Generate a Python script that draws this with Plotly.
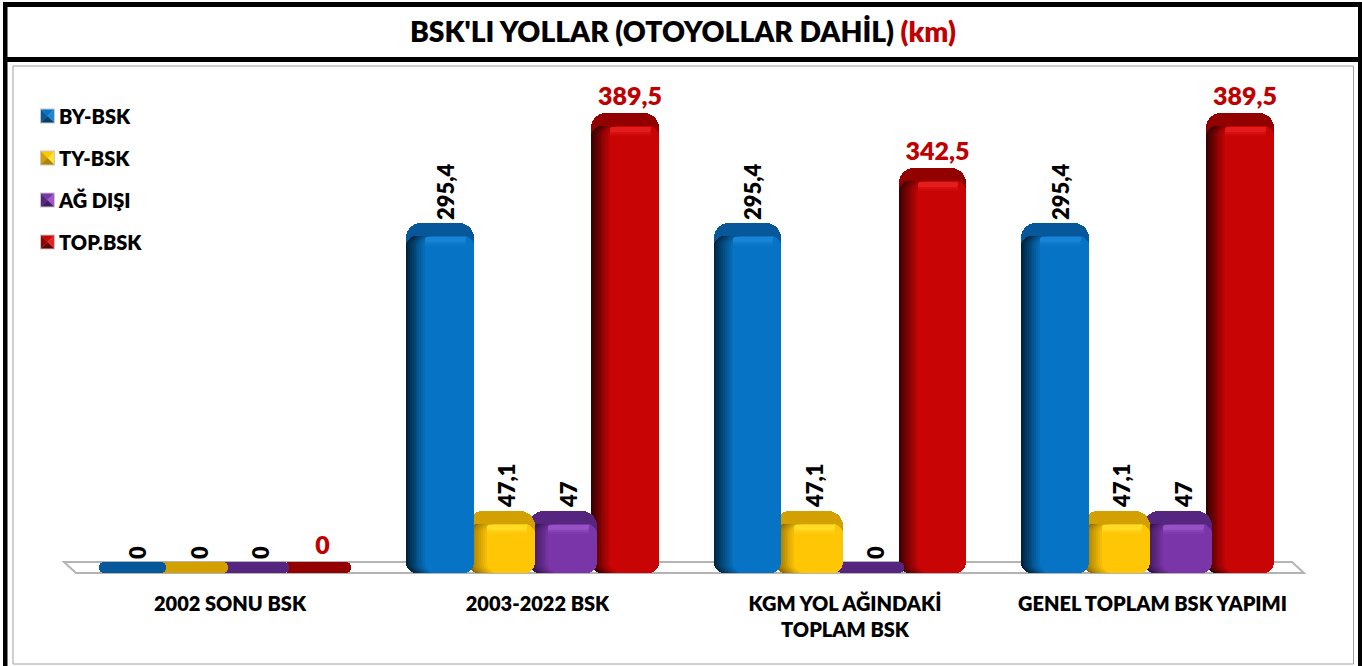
import plotly.graph_objects as go

categories = ["2002 SONU BSK", "2003-2022 BSK", "KGM YOL AĞINDAKİ<br>TOPLAM BSK", "GENEL TOPLAM BSK YAPIMI"]
by_bsk = [0, 295.4, 295.4, 295.4]
ty_bsk = [0, 47.1, 47.1, 47.1]
ag_disi = [0, 47, 0, 47]
top_bsk = [0, 389.5, 342.5, 389.5]
series_names = ["BY-BSK", "TY-BSK", "AĞ DIŞI", "TOP.BSK"]
title_text = "BSK'LI YOLLAR (OTOYOLLAR DAHİL) <span style='color:#C00000'>(km)</span>"

W, H = 1362, 666
L, R, T, B = 20, 1340, 70, 573
PX_PER_KM = 1.162
FLOOR_Y = 566
GROUP_0 = 225
GROUP_STEP = 307.5
BAR_W = 67.5
BAR_STEP = 61.67
FONT = "Lato"

styles = [
    dict(front="#0673C4", back="#07589A", dark="#00233D", hi="#1B88DA"),
    dict(front="#FFC605", back="#D2A000", dark="#8A6800", hi="#FFE22E"),
    dict(front="#7A35A8", back="#55257F", dark="#32134E", hi="#9C58CC"),
    dict(front="#C90404", back="#930000", dark="#380000", hi="#E92222"),
]
values = [by_bsk, ty_bsk, ag_disi, top_bsk]


def km(px):
    return px / PX_PER_KM


def ux(px):
    return px / GROUP_STEP


def pxx(px):
    return (px - L) / (R - L)


def pxy(py):
    return (B - py) / (B - T)


def mix(a, b, t):
    ca = [int(a[i:i + 2], 16) for i in (1, 3, 5)]
    cb = [int(b[i:i + 2], 16) for i in (1, 3, 5)]
    return "#%02X%02X%02X" % tuple(round(p + (q - p) * t) for p, q in zip(ca, cb))


fig = go.Figure()
xs = list(range(len(categories)))
bottom = -km(B - FLOOR_Y)


def layer(vals, left, width, top_inset, color, radius, bot=None):
    """Bar piece: spans from the floor (or bot px under the value top) to top_inset px under the value top."""
    ys, bases = [], []
    for v in vals:
        if v is None:
            ys.append(None)
            bases.append(None)
            continue
        top = v - km(top_inset)
        base = bottom if bot is None else v - km(bot)
        ys.append(top - base)
        bases.append(base)
    fig.add_trace(go.Bar(
        x=xs, y=ys, base=bases, width=ux(width), offset=ux(left),
        marker=dict(color=color, line_width=0, cornerradius=radius),
        showlegend=False, hoverinfo="skip",
    ))


# draw back to front: red, purple, yellow, blue
for i in [3, 2, 1, 0]:
    s = styles[i]
    vals = values[i]
    left0 = -126.5 + i * BAR_STEP
    # top/back face; zero values flatten to a thin plate on the floor
    layer([max(v, km(4)) for v in vals], left0, BAR_W, 0, s["back"], 15)
    nz = [v if v > 0 else None for v in vals]
    # dark left face, blending into the front
    steps = 11
    for k in range(steps):
        t = k / (steps - 1)
        inset = k * 1.9
        layer(nz, left0 + inset, BAR_W - inset, 13, mix(s["dark"], s["front"], t ** 0.9), 10)
    # soft highlight band under the top face
    layer(nz, left0 + 19, BAR_W - 27, 14, mix(s["hi"], s["front"], 0.2), 4, bot=19)
    layer(nz, left0 + 19, BAR_W - 27, 19, mix(s["hi"], s["front"], 0.6), 0, bot=21)
    layer(nz, left0 + 19, BAR_W - 27, 21, mix(s["hi"], s["front"], 0.85), 0, bot=23)

# value labels carried by transparent bars that also provide the legend entries
for i in [3, 2, 1, 0]:
    vals = values[i]
    left0 = -126.5 + i * BAR_STEP
    is_total = i == 3
    fig.add_trace(go.Bar(
        x=xs, y=[max(v, km(4)) for v in vals], width=ux(BAR_W), offset=ux(left0 + 5),
        marker=dict(color="rgba(0,0,0,0)", line_width=0),
        name=series_names[i], legendgroup=series_names[i], legendrank=i + 1, showlegend=True,
        text=[f"{v:g}".replace(".", ",") for v in vals],
        textposition="outside", cliponaxis=False, constraintext="none",
        textangle=0 if is_total else -90,
        textfont=dict(family=FONT, size=25 if is_total else 22, weight=800,
                      color="#C00000" if is_total else "#000000"),
        hoverinfo="skip",
    ))

shapes = []


def rect(x0, y0, x1, y1, **kw):
    shapes.append(dict(type="rect", xref="paper", yref="paper", x0=pxx(x0), x1=pxx(x1),
                       y0=pxy(y0), y1=pxy(y1), **kw))


def poly(points, color, line=None, layer_name="above"):
    path = "M" + " L".join(f"{pxx(x):.5f},{pxy(y):.5f}" for x, y in points) + " Z"
    shapes.append(dict(type="path", xref="paper", yref="paper", path=path, fillcolor=color,
                       line=dict(color=line or color, width=2 if line else 0), layer=layer_name))


# outer frame
rect(13, 66, 1353.5, 664, line=dict(color="#A0A0A0", width=1), layer="below")
rect(3, 2, 7.5, H + 2, fillcolor="#000000", line_width=0, layer="below")
rect(1358, 2, 1370, H + 2, fillcolor="#000000", line_width=0, layer="below")
rect(3, 2, 1362, 7, fillcolor="#000000", line_width=0, layer="below")
rect(3, 57, 1362, 62, fillcolor="#000000", line_width=0, layer="below")

# floor
poly([(64, 562), (1292, 562), (1304, 573), (76, 573)], "#FFFFFF", line="#B4B4B4", layer_name="below")

# legend swatches
for i, yc in enumerate([116, 158, 200, 242]):
    s = styles[i]
    x0, x1, y0, y1 = 40, 55, yc - 7.5, yc + 7.5
    cx, cy = (x0 + x1) / 2, yc
    rect(x0, y0, x1, y1, fillcolor="#C8C8C8", line_width=0, layer="above")
    a, b, c, d = x0 + 1, x1 - 1, y0 + 1, y1 - 1
    poly([(a, c), (b, c), (cx, cy)], s["front"])
    poly([(a, c), (a, d), (cx, cy)], s["back"])
    poly([(b, c), (b, d), (cx, cy)], s["hi"])
    poly([(a, d), (b, d), (cx, cy)], mix(s["dark"], s["back"], 0.5))

fig.update_layout(
    width=W, height=H,
    margin=dict(l=L, r=W - R, t=T, b=H - B, pad=0, autoexpand=False),
    paper_bgcolor="#FFFFFF", plot_bgcolor="rgba(0,0,0,0)",
    barmode="overlay", bargap=0,
    title=dict(text=title_text, x=684 / W, xanchor="center", xref="paper", y=1 - 32 / H, yanchor="middle",
               font=dict(family=FONT, size=28.3, weight=800, color="#000000")),
    xaxis=dict(
        range=[(L - GROUP_0) / GROUP_STEP, (R - GROUP_0) / GROUP_STEP],
        tickmode="array", tickvals=[x + ux(5) for x in xs], ticktext=categories,
        tickangle=0, ticks="outside", ticklen=13, tickcolor="rgba(0,0,0,0)",
        tickfont=dict(family=FONT, size=20, weight=800, color="#000000"),
        showgrid=False, zeroline=False, showline=False,
    ),
    yaxis=dict(range=[bottom, km(FLOOR_Y - T)], visible=False, showgrid=False, zeroline=False),
    legend=dict(
        x=pxx(19), xref="paper", y=pxy(97), yanchor="top", xanchor="left",
        traceorder="grouped", tracegroupgap=13, bgcolor="rgba(0,0,0,0)",
        font=dict(family=FONT, size=20, weight=800, color="#000000"),
    ),
    shapes=shapes,
    showlegend=True,
)

fig.write_html("out.html", config={"displayModeBar": False},
               post_script="document.body.style.margin='0';document.documentElement.style.overflow='hidden';")
